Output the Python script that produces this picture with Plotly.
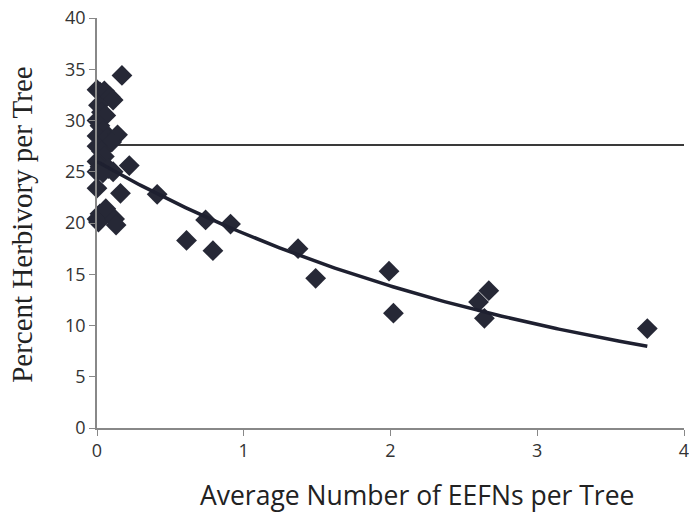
import numpy as np
import plotly.graph_objects as go

# Scatter data (Average EEFNs per tree, percent herbivory)
eefn = [0.00, 0.02, 0.05, 0.09, 0.11, 0.01, 0.03, 0.00, 0.06, 0.02,
        0.04, 0.00, 0.07, 0.14, 0.10, 0.00, 0.03, 0.05, 0.00, 0.02,
        0.08, 0.11, 0.00, 0.04, 0.00, 0.16, 0.00, 0.02, 0.06, 0.01,
        0.12, 0.13, 0.17, 0.22, 0.41, 0.61, 0.74, 0.79, 0.91, 1.37,
        1.49, 1.99, 2.02, 2.60, 2.64, 2.67, 3.75]
herb = [33.0, 32.8, 32.9, 32.3, 32.0, 31.5, 30.8, 30.0, 30.5, 29.5,
        29.0, 28.5, 28.3, 28.6, 27.9, 27.5, 27.0, 26.5, 26.0, 25.5,
        25.3, 25.0, 25.0, 24.9, 23.4, 22.9, 20.4, 20.9, 21.4, 20.1,
        20.4, 19.8, 34.4, 25.6, 22.8, 18.3, 20.3, 17.3, 19.9, 17.5,
        14.6, 15.3, 11.2, 12.3, 10.7, 13.4, 9.7]

# Exponential trendline coefficients (y = a * exp(b * x))
trend_a = 26.0
trend_b = -0.315
trend_x_range = [0.0, 3.75]

# Horizontal reference line
ref_level = 27.6
ref_x_range = [0.0, 4.0]

x_ticks = [0, 1, 2, 3, 4]
y_ticks = [0, 5, 10, 15, 20, 25, 30, 35, 40]

x_title = "Average Number of EEFNs per Tree"
y_title = "Percent Herbivory per Tree"

tx = np.linspace(trend_x_range[0], trend_x_range[1], 200)
ty = trend_a * np.exp(trend_b * tx)

dark = "#262836"

fig = go.Figure()
fig.add_trace(go.Scatter(x=ref_x_range, y=[ref_level, ref_level], mode="lines",
                         line=dict(color="#3a3a3a", width=2), showlegend=False,
                         hoverinfo="skip", cliponaxis=False))
fig.add_trace(go.Scatter(x=eefn, y=herb, mode="markers",
                         marker=dict(symbol="diamond", size=16, color=dark),
                         showlegend=False, cliponaxis=False))
fig.add_trace(go.Scatter(x=tx, y=ty, mode="lines",
                         line=dict(color="#1e2030", width=3.5), showlegend=False,
                         hoverinfo="skip", cliponaxis=False))

fig.update_layout(
    width=689, height=518,
    margin=dict(l=97, r=5, t=18, b=90),
    plot_bgcolor="white", paper_bgcolor="white",
    font=dict(family="Open Sans, Lato, sans-serif", size=17, color="#333"),
    xaxis=dict(range=[0, 4], tickvals=x_ticks, showgrid=False, zeroline=False,
               showline=True, linecolor="#888", linewidth=1.5,
               ticks="outside", ticklen=6, tickcolor="#888",
               ticklabeloverflow="allow", automargin=False,
               tickfont=dict(size=18, color="#333")),
    yaxis=dict(range=[0, 40], tickvals=y_ticks, showgrid=False, zeroline=False,
               showline=True, linecolor="#888", linewidth=1.5,
               ticks="outside", ticklen=6, tickcolor="#888",
               automargin=False,
               tickfont=dict(size=18, color="#333")),
    annotations=[
        dict(text=x_title, xref="paper", yref="paper", x=0.545, y=-0.163,
             xanchor="center", yanchor="middle", showarrow=False,
             font=dict(family="Open Sans, sans-serif", size=26.5, color="#222")),
        dict(text=y_title, xref="paper", yref="paper", x=-0.128, y=0.4976,
             xanchor="center", yanchor="middle", showarrow=False, textangle=-90,
             font=dict(family="Liberation Serif, serif", size=29, color="#222")),
    ],
)

fig.write_html("out.html")
